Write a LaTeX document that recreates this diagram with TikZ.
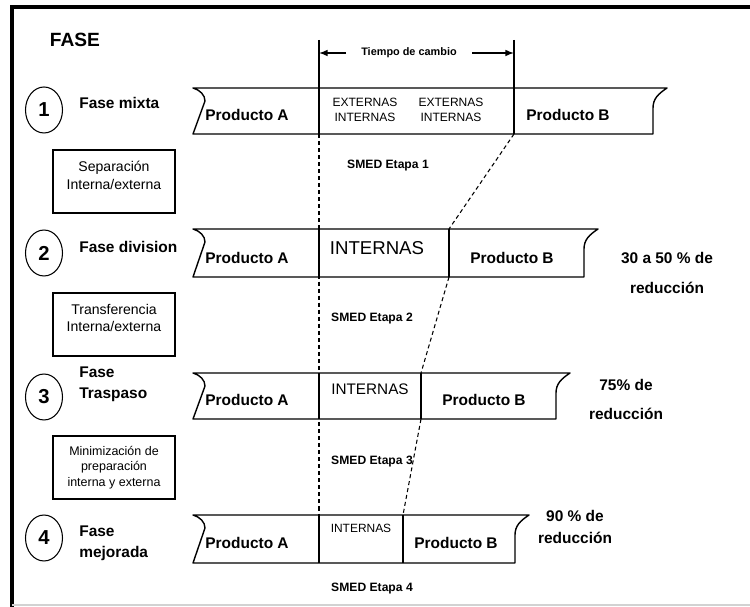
\documentclass[tikz,border=0pt]{standalone}
\usepackage{fontspec}
\setmainfont{Liberation Sans}
\usetikzlibrary{shapes.geometric}

\begin{document}
\begin{tikzpicture}[x=0.02cm,y=-0.02cm,
    cinta/.style={line width=0.8pt,line join=round},
    corte/.style={line width=0.7pt},
    guia/.style={line width=0.6pt,dash pattern=on 2.3pt off 1.7pt},
    negrita/.style={font=\fontsize{8.8}{12}\selectfont\bfseries},
    num/.style={draw,ellipse,line width=0.6pt,minimum width=0.74cm,minimum height=0.92cm,inner sep=0pt,font=\fontsize{11.5}{13}\selectfont\bfseries},
    caja/.style={draw,line width=0.7pt,minimum width=2.44cm,minimum height=1.26cm,align=center,inner sep=1pt},
    smed/.style={font=\fontsize{6.9}{8}\selectfont\bfseries}]
    \useasboundingbox (0,0) rectangle (750,607);
    % marco
    \draw[line width=2.3pt] (12,607) -- (12,7) -- (750,7);
    \draw[gray!35,line width=1pt] (12,605) -- (750,605);

    \node[font=\fontsize{10.9}{12}\selectfont\bfseries] (fase) at (75,40) {FASE};

    % cintas
    \draw[cinta] (193,88) .. controls (200,90) and (205,95) .. (205,101) -- (193,134) -- (653,134) -- (653,108) .. controls (653,99) and (658,94) .. (667,88) -- cycle;
    \draw[cinta] (193,229) .. controls (200,231) and (205,236) .. (205,242) -- (193,277) -- (584,277) -- (584,249) .. controls (584,240) and (589,235) .. (598,229) -- cycle;
    \draw[cinta] (193,373) .. controls (200,375) and (205,380) .. (205,386) -- (193,419) -- (556,419) -- (556,393) .. controls (556,384) and (561,379) .. (570,373) -- cycle;
    \draw[cinta] (193,515) .. controls (200,517) and (205,522) .. (205,528) -- (193,563) -- (515,563) -- (515,535) .. controls (515,526) and (520,521) .. (529,515) -- cycle;

    % tiempo de cambio
    \coordinate (a0) at (319,40);
    \coordinate (a1) at (319,134);
    \coordinate (a4) at (319,515);
    \coordinate (d1) at (514,40);
    \coordinate (d1b) at (514,134);
    \coordinate (d2t) at (449,229);
    \coordinate (d2b) at (449,277);
    \coordinate (d3t) at (421,373);
    \coordinate (d3b) at (421,419);
    \coordinate (d4t) at (403,515);
    \coordinate (d4b) at (403,563);
    \draw[guia] (a1) -- (a4);
    \draw[corte] (a0) -- (a1);
    \draw[corte] (319,229) -- (319,277);
    \draw[corte] (319,373) -- (319,419);
    \draw[corte] (a4) -- (319,563);
    \draw[corte] (d1) -- (d1b);
    \draw[corte] (d2t) -- (d2b);
    \draw[corte] (d3t) -- (d3b);
    \draw[corte] (d4t) -- (d4b);
    \draw[guia] (d1b) -- (d2t);
    \draw[guia] (d2b) -- (d3t);
    \draw[guia] (d3b) -- (d4t);

    \node[font=\fontsize{6.2}{7}\selectfont\bfseries,inner xsep=8.5pt] (tiempo) at (409,53) {Tiempo de cambio};
    \coordinate (t0) at (319,53);
    \coordinate (t1) at (514,53);
    \draw[-latex,line width=0.7pt] (tiempo) -- (t0);
    \draw[-latex,line width=0.7pt] (tiempo) -- (t1);

    % fases
    \node[num] (n1) at (44,110) {1};
    \node[num] (n2) at (44,253) {2};
    \node[num] (n3) at (44,397) {3};
    \node[num] (n4) at (44,538) {4};
    \node[negrita,anchor=west,inner sep=0pt] (f1) at (79,103) {Fase mixta};
    \node[negrita,anchor=west,inner sep=0pt] (f2) at (79,247) {Fase division};
    \node[negrita,anchor=west,inner sep=0pt,align=left] (f3) at (79,384.5) {Fase\\Traspaso};
    \node[negrita,anchor=west,inner sep=0pt,align=left] (f4) at (79,543) {Fase\\mejorada};

    \node[caja,font=\fontsize{8}{10.2}\selectfont,text depth=7.5pt] (caja1) at (114,181.5) {Separación\\Interna/externa};
    \node[caja,font=\fontsize{8}{10.2}\selectfont,text depth=7.5pt] (caja2) at (114,324.5) {Transferencia\\Interna/externa};
    \node[caja,font=\fontsize{7.1}{8.8}\selectfont] (caja3) at (114,467.5) {Minimización de\\preparación\\interna y externa};

    % productos
    \node[negrita] (pa1) at (247,115) {Producto A};
    \node[negrita] (pa2) at (247,258) {Producto A};
    \node[negrita] (pa3) at (247,400) {Producto A};
    \node[negrita] (pa4) at (247,543) {Producto A};
    \node[negrita] (pb1) at (568,115) {Producto B};
    \node[negrita] (pb2) at (512,258) {Producto B};
    \node[negrita] (pb3) at (484,400) {Producto B};
    \node[negrita] (pb4) at (456,543) {Producto B};

    \node[font=\fontsize{6.85}{8.3}\selectfont,align=center] (ext1a) at (365,110) {EXTERNAS\\INTERNAS};
    \node[font=\fontsize{6.85}{8.3}\selectfont,align=center] (ext1b) at (451,110) {EXTERNAS\\INTERNAS};
    \node[font=\fontsize{10.6}{12}\selectfont] (int2) at (377,248) {INTERNAS};
    \node[font=\fontsize{8.7}{10}\selectfont] (int3) at (370,389) {INTERNAS};
    \node[font=\fontsize{6.8}{8}\selectfont] (int4) at (361,528) {INTERNAS};

    \node[smed] (smed1) at (388,166) {SMED Etapa 1};
    \node[smed] (smed2) at (372,319) {SMED Etapa 2};
    \node[smed] (smed3) at (372,462) {SMED Etapa 3};
    \node[smed] (smed4) at (372,589) {SMED Etapa 4};

    % reduccion
    \node[negrita,align=center] (red2) at (667,273) {30 a 50 \% de\\[5pt]reducción};
    \node[negrita,align=center] (red3) at (626,399.5) {75\% de\\[4.5pt]reducción};
    \node[negrita,align=center] (red4) at (575,527) {90 \% de\\reducción};
\end{tikzpicture}
\end{document}
